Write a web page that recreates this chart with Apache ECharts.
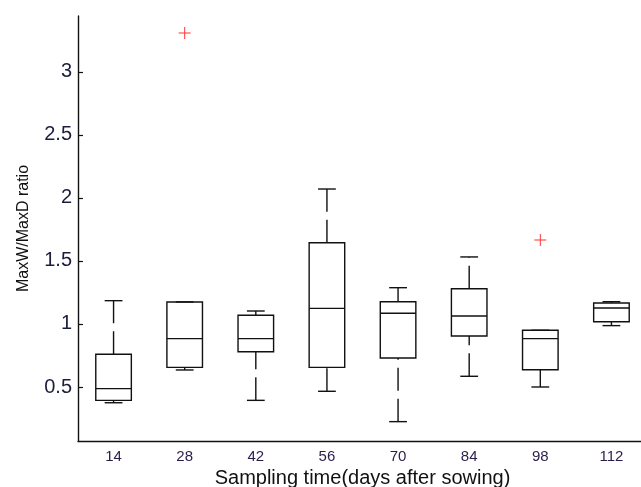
<!DOCTYPE html>
<html>
<head>
<meta charset="utf-8">
<script src="https://cdn.jsdelivr.net/npm/echarts@6/dist/echarts.min.js"></script>
<style>html,body{margin:0;padding:0;background:#fff;overflow:hidden}#c{width:641px;height:487px}</style>
</head>
<body>
<div id="c"></div>
<script>
var categories = ['14', '28', '42', '56', '70', '84', '98', '112'];
var lowerWhisker = [0.375, 0.635, 0.394, 0.466, 0.225, 0.585, 0.500, 0.987];
var q1 = [0.394, 0.656, 0.780, 0.656, 0.730, 0.905, 0.637, 1.018];
var medianValues = [0.487, 0.884, 0.884, 1.124, 1.085, 1.063, 0.884, 1.127];
var q3 = [0.760, 1.175, 1.069, 1.645, 1.177, 1.280, 0.950, 1.167];
var upperWhisker = [1.185, 1.175, 1.103, 2.071, 1.288, 1.532, 0.950, 1.177];
var outlierCategory = ['28', '98'];
var outlierValue = [3.31, 1.667];
var yTicks = [0.5, 1, 1.5, 2, 2.5, 3];

var boxData = categories.map(function (c, i) {
  return [i, lowerWhisker[i], q1[i], medianValues[i], q3[i], upperWhisker[i]];
});
var outlierData = outlierCategory.map(function (c, i) {
  return [categories.indexOf(c), outlierValue[i]];
});

var lineStyle = { stroke: '#111', lineWidth: 1.4, fill: null };
var dashStyle = { stroke: '#111', lineWidth: 1.4, lineDash: [23, 8], fill: null };

function renderBox(params, api) {
  var idx = api.value(0);
  var low = api.coord([idx, api.value(1)]);
  var pq1 = api.coord([idx, api.value(2)]);
  var pmed = api.coord([idx, api.value(3)]);
  var pq3 = api.coord([idx, api.value(4)]);
  var high = api.coord([idx, api.value(5)]);
  var bw = api.size([1, 0])[0] * 0.5;
  var cw = bw * 0.5;
  var x = pq1[0];
  var children = [];
  if (Math.abs(low[1] - pq1[1]) > 0.5) {
    children.push({ type: 'line', shape: { x1: x, y1: low[1], x2: x, y2: pq1[1] }, style: dashStyle });
  }
  if (Math.abs(high[1] - pq3[1]) > 0.5) {
    children.push({ type: 'line', shape: { x1: x, y1: pq3[1], x2: x, y2: high[1] }, style: dashStyle });
  }
  children.push({ type: 'line', shape: { x1: x - cw / 2, y1: low[1], x2: x + cw / 2, y2: low[1] }, style: lineStyle });
  children.push({ type: 'line', shape: { x1: x - cw / 2, y1: high[1], x2: x + cw / 2, y2: high[1] }, style: lineStyle });
  children.push({ type: 'rect', shape: { x: x - bw / 2, y: pq3[1], width: bw, height: pq1[1] - pq3[1] }, style: lineStyle });
  children.push({ type: 'line', shape: { x1: x - bw / 2, y1: pmed[1], x2: x + bw / 2, y2: pmed[1] }, style: lineStyle });
  return { type: 'group', children: children };
}

var chart = echarts.init(document.getElementById('c'), null, { renderer: 'canvas', width: 641, height: 487 });
chart.setOption({
  animation: false,
  backgroundColor: '#fff',
  grid: { left: 78, top: 16, right: -6, bottom: 46, containLabel: false, outerBoundsMode: 'none' },
  xAxis: {
    type: 'category',
    data: categories,
    boundaryGap: true,
    name: 'Sampling time(days after sowing)',
    nameLocation: 'middle',
    nameGap: 25,
    nameTextStyle: { fontFamily: 'Liberation Sans, Arial, sans-serif', fontSize: 20, color: '#111' },
    axisLine: { lineStyle: { color: '#111', width: 1.4 } },
    axisTick: { show: false },
    axisLabel: { fontFamily: 'Liberation Sans, Arial, sans-serif', fontSize: 15, color: '#2b1d4a', margin: 8 },
    splitLine: { show: false }
  },
  yAxis: {
    type: 'value',
    min: 0.0714,
    max: 3.444,
    name: 'MaxW/MaxD ratio',
    nameLocation: 'middle',
    nameGap: 46,
    nameRotate: 90,
    nameTextStyle: { fontFamily: 'Liberation Sans, Arial, sans-serif', fontSize: 16, color: '#111' },
    axisLine: { show: true, lineStyle: { color: '#111', width: 1.4 } },
    axisTick: { show: true, inside: true, length: 5, customValues: yTicks, lineStyle: { color: '#111', width: 1.2 } },
    axisLabel: { customValues: yTicks, fontFamily: 'Liberation Sans, Arial, sans-serif', fontSize: 20, color: '#1c1c3c', margin: 6 },
    splitLine: { show: false }
  },
  series: [
    {
      type: 'custom',
      renderItem: renderBox,
      data: boxData,
      encode: { x: 0, y: [1, 2, 3, 4, 5] },
      clip: false
    },
    {
      type: 'scatter',
      data: outlierData,
      symbol: 'path://M5.5,0 L6.5,0 L6.5,5.5 L12,5.5 L12,6.5 L6.5,6.5 L6.5,12 L5.5,12 L5.5,6.5 L0,6.5 L0,5.5 L5.5,5.5 Z',
      symbolSize: 12,
      itemStyle: { color: '#ff0000' }
    }
  ]
});
</script>
</body>
</html>
